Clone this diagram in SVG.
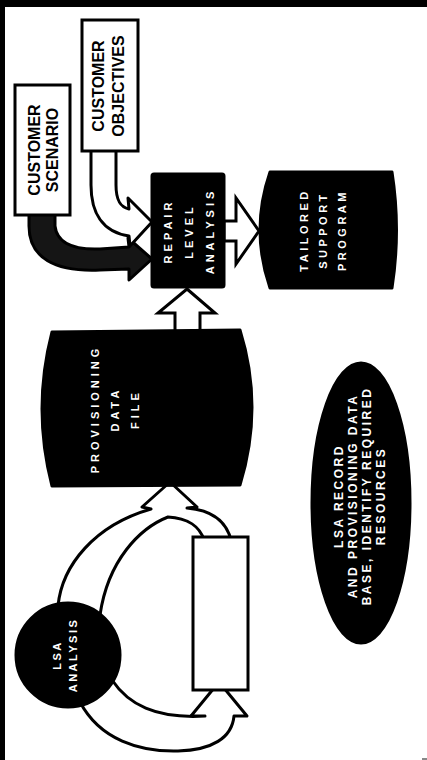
<svg xmlns="http://www.w3.org/2000/svg" width="427" height="760" viewBox="0 0 427 760">
<style>
.frame{fill:#000}
.dark{fill:#000;stroke:#000;stroke-width:3;stroke-linejoin:round}
.box{fill:#fff;stroke:#000;stroke-width:3}
.hollow{fill:#fff;stroke:#000;stroke-width:3;stroke-linejoin:miter}
.band{fill:#fff;stroke:#000;stroke-width:3;stroke-linejoin:round}
.bandDark{fill:#151515;stroke:#000;stroke-width:3;stroke-linejoin:round}
.lbl{font-family:"Liberation Sans",Arial,sans-serif;font-weight:bold;text-anchor:middle;dominant-baseline:central}
.blk{fill:#000;font-size:16px}
.wht{fill:#fff;font-size:11px;letter-spacing:4px}
.wht2{fill:#fff;font-size:12px;letter-spacing:2.5px}
</style>
<rect width="427" height="760" fill="#fff"/>
<rect class="frame" x="0" y="0" width="427" height="7"/>
<rect class="frame" x="0" y="0" width="5" height="760"/>
<rect x="422" y="758" width="5" height="2" fill="#888"/>

<g id="connectors">
  <path class="bandDark" d="M55,212 L55,226 C57,244 76,250 100,249 L129,247 L128,238 L152,259 L129,280 L129,269 L100,270 C55,272 29,258 29,226 L29,212 Z"/>
  <path class="band" d="M116,149 L116,185 C116,200 120,207 129,209 L128,198 L152,222 L130,246 L129,236 C102,232 91,212 91,185 L91,149 Z"/>
  <path class="hollow" d="M224,221 L236,221 L236,198 L259,231 L236,264 L236,241 L224,241 Z"/>
  <path class="hollow" d="M187,289 L215,313 L200,313 L200,334 L175,334 L175,313 L158,313 Z"/>
  <path class="band" d="M170,482 L197,507 L187,508 C210,510 226,520 231,540 L204,540 C200,527 188,518 168,517 C140,528 108,560 100,615 L58,606 C62,565 95,525 151,509 L142,507 Z"/>
  <path class="band" d="M219,682 L247,716 L234,716 C232,738 212,750 178,751 C140,752 100,740 80,702 L112,680 C128,704 155,719 205,716 L191,716 Z"/>
</g>

<g id="customer-scenario">
  <rect class="box" x="15" y="85" width="55" height="130"/>
  <g transform="translate(43,150) rotate(-90)">
    <text class="lbl blk" y="-9">CUSTOMER</text>
    <text class="lbl blk" y="9">SCENARIO</text>
  </g>
</g>

<g id="customer-objectives">
  <rect class="box" x="82" y="20" width="56" height="131"/>
  <g transform="translate(108,86) rotate(-90)">
    <text class="lbl blk" y="-10">CUSTOMER</text>
    <text class="lbl blk" y="10">OBJECTIVES</text>
  </g>
</g>

<g id="repair-level-analysis">
  <rect class="dark" x="152" y="174" width="72" height="113" rx="2"/>
  <g transform="translate(189,231) rotate(-90)">
    <text class="lbl wht" y="-21">REPAIR</text>
    <text class="lbl wht" y="0">LEVEL</text>
    <text class="lbl wht" y="21">ANALYSIS</text>
  </g>
</g>

<g id="tailored-support-program">
  <path class="dark" d="M270,172 L392,172 Q401,230 392,288 L270,288 Q250,230 270,172 Z"/>
  <g transform="translate(323,230) rotate(-90)">
    <text class="lbl wht" y="-19" style="letter-spacing:3.5px">TAILORED</text>
    <text class="lbl wht" y="0" style="letter-spacing:3.5px">SUPPORT</text>
    <text class="lbl wht" y="19" style="letter-spacing:3.5px">PROGRAM</text>
  </g>
</g>

<g id="provisioning-data-file">
  <path class="dark" d="M52,332 L240,330 Q264,407 240,485 L52,486 Q32,409 52,332 Z"/>
  <g transform="translate(115,409) rotate(-90)">
    <text class="lbl wht" y="-20">PROVISIONING</text>
    <text class="lbl wht" y="0">DATA</text>
    <text class="lbl wht" y="20">FILE</text>
  </g>
</g>

<g id="lsa-record">
  <ellipse class="dark" cx="361" cy="503" rx="49" ry="140"/>
  <g transform="translate(360,496) rotate(-90)">
    <text class="lbl wht2" y="-21">LSA RECORD</text>
    <text class="lbl wht2" y="-7">AND PROVISIONING DATA</text>
    <text class="lbl wht2" y="7">BASE, IDENTIFY REQUIRED</text>
    <text class="lbl wht2" y="21">RESOURCES</text>
  </g>
</g>

<g id="blank-box">
  <rect class="box" x="193" y="537" width="55" height="153"/>
</g>

<g id="lsa-analysis">
  <circle class="dark" cx="68" cy="655" r="52"/>
  <g transform="translate(65,655) rotate(-90)">
    <text class="lbl wht" y="-8" style="letter-spacing:2.5px">LSA</text>
    <text class="lbl wht" y="8" style="letter-spacing:2.5px">ANALYSIS</text>
  </g>
</g>
</svg>
